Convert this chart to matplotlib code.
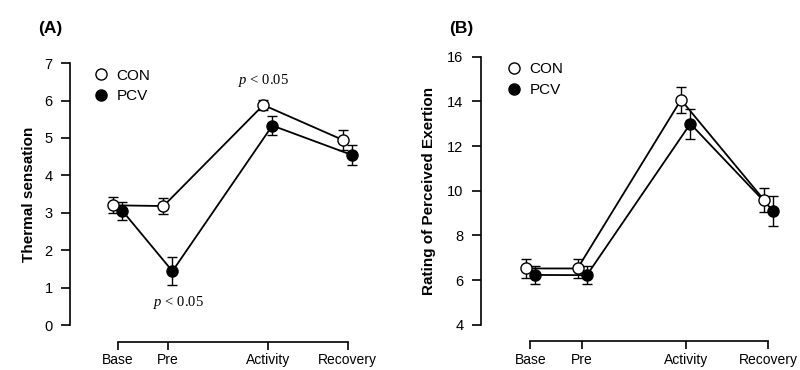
import numpy as np
import matplotlib
matplotlib.use('Agg')
import matplotlib.pyplot as plt
from matplotlib.lines import Line2D

plt.rcParams['font.family'] = ['Liberation Sans', 'DejaVu Sans']
plt.rcParams['mathtext.fontset'] = 'custom'
plt.rcParams['mathtext.it'] = 'Liberation Serif:italic'
plt.rcParams['mathtext.rm'] = 'Liberation Serif'

# data
phases = ['Base', 'Pre', 'Activity', 'Recovery']
phase_x = [0, 1, 3, 4.6]

ts_con = [3.20, 3.18, 5.88, 4.94]
ts_con_err = [0.21, 0.22, 0.14, 0.26]
ts_pcv = [3.05, 1.44, 5.33, 4.54]
ts_pcv_err = [0.24, 0.38, 0.25, 0.27]

rpe_con = [6.52, 6.52, 14.07, 9.60]
rpe_con_err = [0.43, 0.43, 0.57, 0.54]
rpe_pcv = [6.23, 6.22, 13.00, 9.10]
rpe_pcv_err = [0.39, 0.39, 0.67, 0.68]

DX = 0.09
FS = 10.5

fig = plt.figure(figsize=(8, 3.7), dpi=100)
axA = fig.add_axes([0.0875, 0.1215, 0.366, 0.708])
axB = fig.add_axes([0.601, 0.1223, 0.379, 0.7244])


def panel(ax, con, con_e, pcv, pcv_e, ylim, yticks, ylabel, leg_anchor, labelpad):
    x = np.array(phase_x, float)
    ax.errorbar(x + DX, pcv, yerr=pcv_e, fmt='-o', color='black', mfc='black', mec='black',
                ms=8, lw=1.3, elinewidth=1.0, capsize=3.5, capthick=1.0, clip_on=False, zorder=3)
    ax.errorbar(x - DX, con, yerr=con_e, fmt='-o', color='black', mfc='white', mec='black',
                ms=8, lw=1.3, mew=1.0, elinewidth=1.0, capsize=3.5, capthick=1.0, clip_on=False, zorder=4)
    ax.set_xlim(-0.96, 4.9)
    ax.set_ylim(*ylim)
    ax.set_xticks(phase_x)
    ax.set_xticklabels(phases, fontsize=FS)
    ax.set_yticks(yticks)
    ax.tick_params(axis='y', labelsize=FS, length=6.5, width=1.2, pad=6)
    ax.tick_params(axis='x', length=6, width=1.2, pad=2)
    for s in ['top', 'right']:
        ax.spines[s].set_visible(False)
    ax.spines['left'].set_bounds(ylim[0], ylim[1])
    ax.spines['bottom'].set_position(('outward', 12))
    ax.spines['bottom'].set_bounds(phase_x[0], phase_x[-1])
    ax.spines['left'].set_linewidth(1.2)
    ax.spines['bottom'].set_linewidth(1.2)
    ax.set_ylabel(ylabel, fontsize=11, fontweight='bold', labelpad=labelpad)
    handles = [Line2D([], [], ls='none', marker='o', ms=8, mfc='white', mec='black', mew=1.0),
               Line2D([], [], ls='none', marker='o', ms=8, mfc='black', mec='black')]
    ax.legend(handles, ['CON', 'PCV'], loc='upper left', bbox_to_anchor=leg_anchor, frameon=False,
              fontsize=11, handlelength=0.8, handletextpad=0.6, labelspacing=0.45, borderpad=0.2)
    return ax


panel(axA, ts_con, ts_con_err, ts_pcv, ts_pcv_err, (0, 7), range(0, 8), 'Thermal sensation',
      (0.05, 1.02), 6)
panel(axB, rpe_con, rpe_con_err, rpe_pcv, rpe_pcv_err, (4, 16), range(4, 17, 2),
      'Rating of Perceived Exertion', (0.055, 1.02), 8)

axA.text(phase_x[2] - DX, ts_con[2] + ts_con_err[2] + 0.28, r'$p$ < 0.05', family='Liberation Serif',
         fontsize=10.5, ha='center', va='bottom')
axA.text(phase_x[1] + 0.2, ts_pcv[1] - ts_pcv_err[1] - 0.22, r'$p$ < 0.05', family='Liberation Serif',
         fontsize=10.5, ha='center', va='top')

fig.text(38 / 800, 1 - 28 / 370, '(A)', fontsize=12.5, fontweight='bold', va='center')
fig.text(449 / 800, 1 - 28 / 370, '(B)', fontsize=12.5, fontweight='bold', va='center')

fig.savefig('out.png', dpi=100)
